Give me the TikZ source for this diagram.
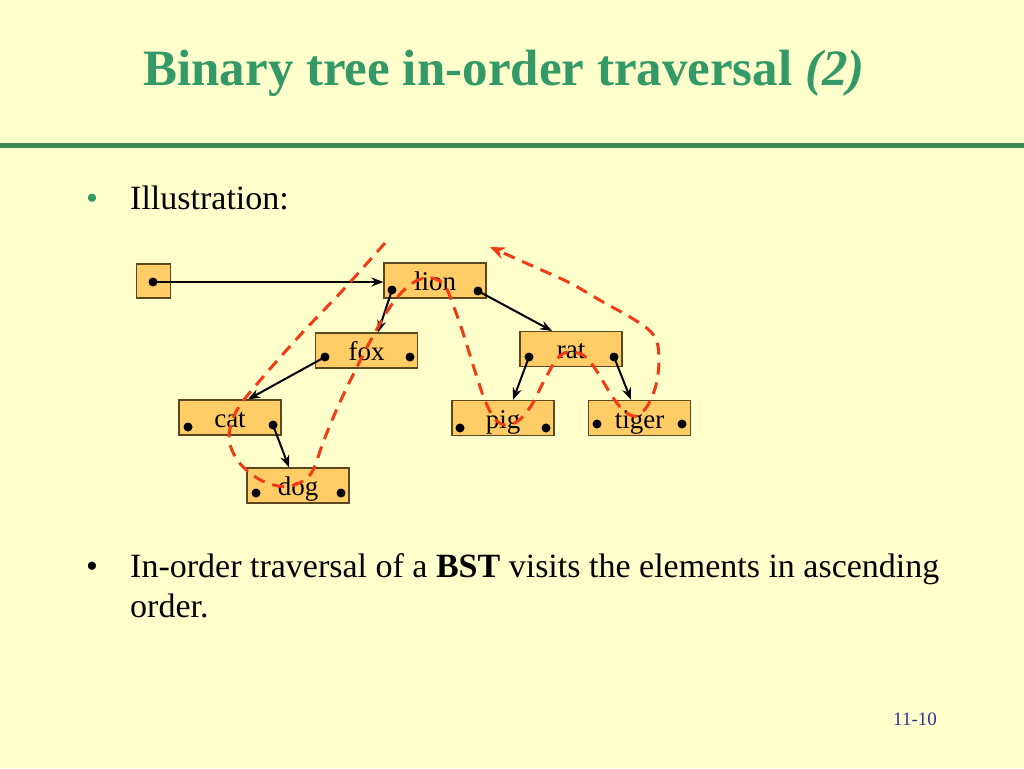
\documentclass[tikz,border=0pt]{standalone}
\usepackage{fontspec}
\setmainfont{Liberation Serif}
\usetikzlibrary{arrows.meta,calc}
\definecolor{bgc}{HTML}{FFFFCC}
\definecolor{ttl}{HTML}{339966}
\definecolor{rulec}{HTML}{3C8C5A}
\definecolor{boxc}{HTML}{FFCC66}
\definecolor{boxd}{HTML}{5A4620}
\definecolor{redd}{HTML}{F03C14}
\definecolor{foot}{HTML}{333399}
\begin{document}
\begin{tikzpicture}[x=1pt,y=-1pt,
  bx/.style={draw=boxd,line width=1.2pt,fill=boxc,minimum width=102pt,minimum height=35pt,inner sep=0pt},
  rbx/.style={bx,minimum width=34pt,minimum height=34pt},
  lbl/.style={anchor=base,inner sep=0pt,font=\fontsize{27}{31}\selectfont},
  dotn/.style={circle,fill=black,inner sep=0pt,minimum size=9pt},
  ptr/.style={line width=2pt,-{Stealth[length=12pt,width=9pt]}},
  trav/.style={redd,line width=3pt,dash pattern=on 12pt off 8pt,-{Stealth[length=15pt,width=12pt]}},
  body/.style={anchor=base west,inner sep=0pt,font=\fontsize{34}{40}\selectfont},
  bul/.style={anchor=base,inner sep=0pt,font=\fontsize{34}{40}\selectfont}
]
\fill[bgc] (0,0) rectangle (1024,768);
\useasboundingbox (0,0) rectangle (1024,768);
% title and rule
\node[anchor=base,inner sep=0pt,text=ttl,font=\fontsize{51}{56}\selectfont\bfseries] (title) at (504,85) {Binary tree in-order traversal \textit{(2)}};
\fill[rulec] (0,143) rectangle (1024,148);
% first bullet
\node[bul,text=ttl] (b1) at (92,209) {\textbullet};
\node[body] (illus) at (130,209) {Illustration:};
% boxes
\node[rbx] (root) at (153.5,281) {};
\node[bx] (lion) at (435,280.5) {};
\node[bx] (fox) at (366.5,350.5) {};
\node[bx] (rat) at (571,349) {};
\node[bx] (cat) at (230,417.5) {};
\node[bx] (pig) at (503,418) {};
\node[bx] (tiger) at (639.5,418) {};
\node[bx] (dog) at (298,485.5) {};
% labels
\node[lbl] (lionT) at (435,290) {lion};
\node[lbl] (foxT) at (366.5,360) {fox};
\node[lbl] (ratT) at (571,358) {rat};
\node[lbl] (catT) at (230,427) {cat};
\node[lbl] (pigT) at (503,428) {pig};
\node[lbl] (tigerT) at (639.5,428) {tiger};
\node[lbl] (dogT) at (298,495) {dog};
% dots
\node[dotn] (rootD) at (153,282) {};
\node[dotn] (lionL) at (392,290) {};
\node[dotn] (lionR) at (478,291) {};
\node[dotn] (foxL) at (325,357) {};
\node[dotn] (foxR) at (410,357) {};
\node[dotn] (ratL) at (529,357) {};
\node[dotn] (ratR) at (614,357) {};
\node[dotn] (catL) at (188,427) {};
\node[dotn] (catR) at (273,425) {};
\node[dotn] (pigL) at (460,428) {};
\node[dotn] (pigR) at (546,428) {};
\node[dotn] (tigerL) at (597,424) {};
\node[dotn] (tigerR) at (682,424) {};
\node[dotn] (dogL) at (256,493) {};
\node[dotn] (dogR) at (341,493) {};
% pointers
\draw[ptr] (rootD.center) -- (rootD.center -| lion.west);
\draw[ptr] (lionL.center) -- ($(fox.north)+(11.5,0)$);
\draw[ptr] (lionR.center) -- ($(rat.north)+(-19,0)$);
\draw[ptr] (foxL.center) -- ($(cat.north)+(18,0)$);
\draw[ptr] (catR.center) -- ($(dog.north)+(-9,0)$);
\draw[ptr] (ratL.center) -- ($(pig.north)+(10,0)$);
\draw[ptr] (ratR.center) -- ($(tiger.north)+(-8.5,0)$);
% traversal path
\coordinate (tstart) at (385,243);
\coordinate (tend) at (490,247);
\draw[trav] plot[smooth,tension=0.55] coordinates {
 (tstart) (343,290) (303,332) (263,377) (237,410) (229,438) (238,461) (257,478) (278,486) (297,484) (312,472) (324,440) (340,402) (357,367) (372,338) (390,307) (405,289) (418,280) (432,278) (445,286) (455,310) (464,336) (474,368) (484,398) (494,418) (505,425) (518,421) (531,406) (544,381) (557,359) (568,352) (583,355) (594,367) (604,383) (614,399) (625,412) (637,416) (648,405) (656,385) (659,362) (657,342) (649,330) (630,317) (603,302) (570,283) (537,268) (tend)};
% second bullet
\node[bul] (b2) at (92,577) {\textbullet};
\node[body] (line1) at (130,577) {In-order traversal of a \textbf{BST} visits the elements in ascending};
\node[body] (line2) at (130,617) {order.};
% footer
\node[anchor=base,inner sep=0pt,text=foot,font=\fontsize{19}{22}\selectfont] (pnum) at (915,725) {11-10};
\end{tikzpicture}
\end{document}
